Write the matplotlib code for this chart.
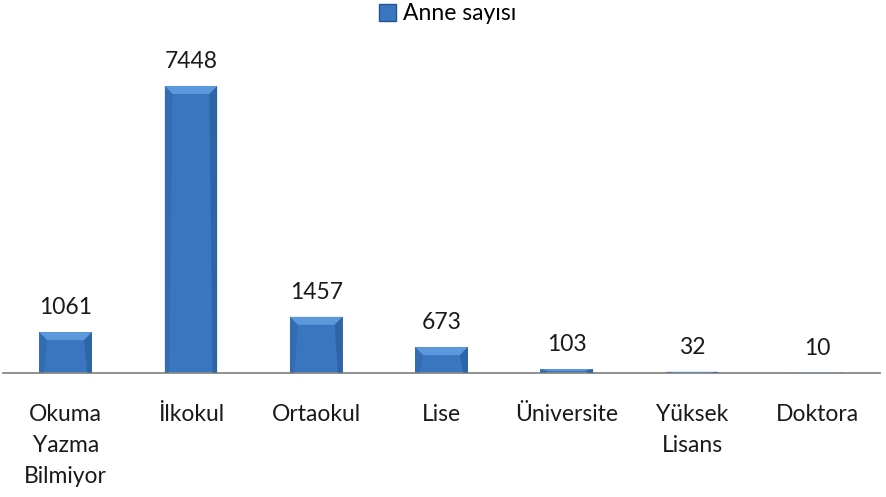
import numpy as np
import matplotlib
matplotlib.use("Agg")
import matplotlib.pyplot as plt
from matplotlib.patches import Polygon, Patch

plt.rcParams['font.family'] = ['Lato', 'DejaVu Sans']

kategoriler = ["Okuma\nYazma\nBilmiyor", "İlkokul", "Ortaokul", "Lise",
               "Üniversite", "Yüksek\nLisans", "Doktora"]
anne_sayisi = [1061, 7448, 1457, 673, 103, 32, 10]

ana_renk = "#3a76c0"
acik_renk = "#5b98dc"
koyu_renk = "#24558f"
yazi_boyu = 16.5

fig = plt.figure(figsize=(8.86, 4.97), dpi=100)
ax = fig.add_axes([3/886, 124/497, 877/886, 333/497])

x = np.arange(len(kategoriler))
bars = ax.bar(x, anne_sayisi, width=0.42, color=ana_renk, zorder=2)

ax.set_xlim(-0.5, len(kategoriler) - 0.5)
ax.set_ylim(0, 8640)

# kabartma efekti (bevel)
px_per_unit = 333 / 8640
bevel_px = 8
for b in bars:
    x0, w, h = b.get_x(), b.get_width(), b.get_height()
    dy = min(bevel_px / px_per_unit, h / 2)
    dx = min(w * 0.15, w / 2)
    top = [(x0, h), (x0 + w, h), (x0 + w - dx, h - dy), (x0 + dx, h - dy)]
    ax.add_patch(Polygon(top, closed=True, color=acik_renk, lw=0, zorder=3))
    sag = [(x0 + w, h), (x0 + w, 0), (x0 + w - dx * 0.6, 0), (x0 + w - dx, h - dy)]
    ax.add_patch(Polygon(sag, closed=True, color=koyu_renk, lw=0, zorder=3, alpha=0.5))
    sol = [(x0, h), (x0, 0), (x0 + dx * 0.6, 0), (x0 + dx, h - dy)]
    ax.add_patch(Polygon(sol, closed=True, color=koyu_renk, lw=0, zorder=3, alpha=0.3))
    ax.annotate(str(int(h)), (x0 + w / 2, h), xytext=(0, 10), textcoords="offset points",
                ha="center", va="bottom", fontsize=yazi_boyu, color="#1a1a1a")

for s in ["top", "right", "left"]:
    ax.spines[s].set_visible(False)
ax.spines["bottom"].set_color("#888888")
ax.spines["bottom"].set_linewidth(1.3)
ax.set_yticks([])
ax.set_xticks(x)
ax.set_xticklabels(kategoriler, fontsize=yazi_boyu, linespacing=1.6, color="#1a1a1a")
ax.tick_params(axis="x", length=0, pad=22)
ax.patch.set_visible(False)

fig.legend(handles=[Patch(facecolor=ana_renk, edgecolor=koyu_renk, label="Anne sayısı")],
           loc="center", bbox_to_anchor=(0.505, 0.972), frameon=False,
           fontsize=yazi_boyu, handlelength=0.75, handleheight=0.75, handletextpad=0.3)

fig.savefig("out.png", dpi=100)
